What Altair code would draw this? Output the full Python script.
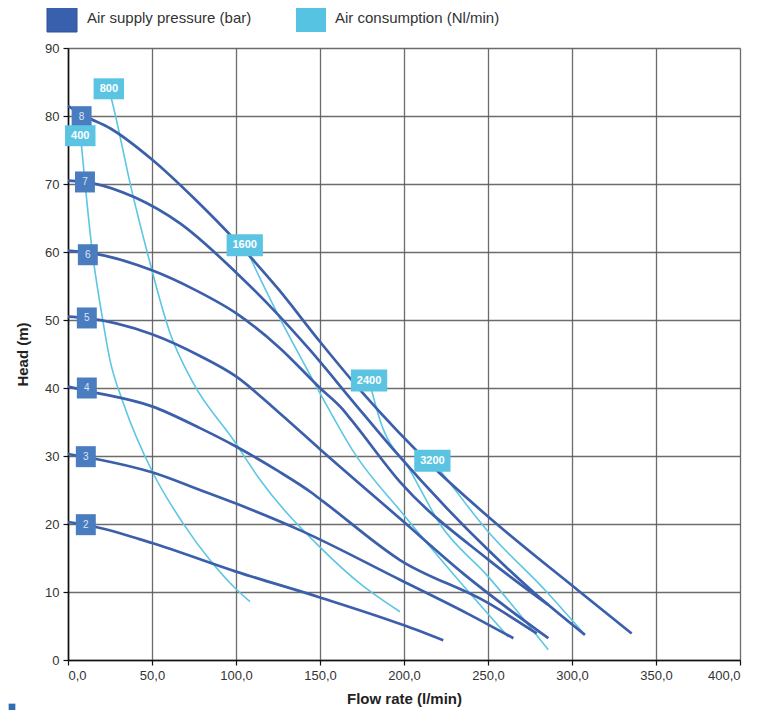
import altair as alt
import pandas as pd

# ---------------- data ----------------
LEG_P = "Air supply pressure (bar)"
LEG_A = "Air consumption (Nl/min)"
legend_kinds = [LEG_P, LEG_A]

# air supply pressure curves (bar): flow (l/min), head (m)
p2_flow = [0, 16, 50, 100, 150, 200, 223.4]
p2_head = [20.3, 19.6, 17.2, 13.0, 9.2, 5.1, 2.9]
p3_flow = [0, 16, 50, 78.6, 100, 138, 197.6, 237.3, 265.1]
p3_head = [30.3, 29.6, 27.6, 25.0, 23.0, 19.1, 11.8, 6.9, 3.2]
p4_flow = [0, 15, 50, 78.6, 100, 125, 145, 152, 197.6, 250, 279]
p4_head = [40.2, 39.4, 37.3, 34.1, 31.4, 27.8, 24.6, 23.3, 14.7, 8.4, 3.9]
p5_flow = [0, 10, 50, 78.6, 100, 125, 150, 197.6, 235.3, 285.9]
p5_head = [50.5, 50.3, 47.9, 44.7, 41.7, 36.5, 31.0, 20.8, 12.7, 3.2]
p6_flow = [0, 15, 50, 75, 100, 126, 150, 163, 169, 197.6, 250, 285.9]
p6_head = [60.2, 59.8, 57.3, 54.5, 51.0, 45.9, 40.0, 37.0, 35.2, 26.2, 14.8, 8.1]
p7_flow = [0, 15, 40, 66.7, 100, 125, 144, 170, 193.5, 250, 277, 307.7]
p7_head = [70.5, 70.1, 68.0, 64.2, 57.0, 50.8, 45.6, 37.9, 31.0, 16.2, 10.0, 3.7]
p8_flow = [0, 10, 25, 50, 75, 100, 125, 150, 175, 219.4, 250, 304.8, 335.5]
p8_head = [81.5, 80.0, 78.2, 73.6, 67.9, 61.6, 54.6, 46.8, 39.4, 27.9, 21.1, 10.0, 3.9]

# air consumption curves (Nl/min)
a400_flow = [7.5, 8.1, 11, 14.1, 20, 25, 32.9, 50.6, 68.5, 84.5, 100.6, 108.3]
a400_head = [77.0, 75.5, 68.0, 60.8, 51.0, 44.1, 37.8, 27.5, 20.1, 14.7, 10.3, 8.6]
a800_flow = [24.3, 26, 37.9, 46.8, 60.7, 74.6, 98.4, 114.3, 150, 175, 197.6]
a800_head = [84.0, 82.4, 69.1, 60.3, 48.1, 40.7, 32.4, 26.5, 16.6, 11.0, 7.1]
a1600_flow = [105.2, 108.3, 125, 140, 155, 170, 200, 227.4, 262.1]
a1600_head = [61.0, 59.3, 50.8, 43.8, 37.0, 30.6, 21.3, 13.2, 3.4]
a2400_flow = [179.2, 185.7, 203.6, 221.4, 250, 285.9]
a2400_head = [41.1, 35.3, 27.9, 20.0, 12.3, 1.5]
a3200_flow = [216.9, 221.4, 250, 285, 307.7]
a3200_head = [29.3, 27.9, 18.9, 10.0, 3.7]

# curve labels
p_label_text = ["2", "3", "4", "5", "6", "7", "8"]
p_label_flow = [10.6, 10.6, 11.2, 11.2, 11.8, 10.1, 8.1]
p_label_head = [19.9, 29.9, 40.0, 50.3, 59.6, 70.3, 79.9]
a3_label_text = ["400", "800"]
a3_label_flow = [7.3, 24.3]
a3_label_head = [77.1, 84.0]
a4_label_text = ["1600", "2400", "3200"]
a4_label_flow = [105.2, 179.2, 216.9]
a4_label_head = [61.0, 41.1, 29.3]

# ---------------- tables ----------------
def curves(items, kind):
    rows = []
    for name, fl, hd in items:
        for i, (f, h) in enumerate(zip(fl, hd)):
            rows.append({"curve": name, "idx": i, "flow": f, "head": h, "kind": kind})
    return rows

p_df = pd.DataFrame(curves([("2", p2_flow, p2_head), ("3", p3_flow, p3_head), ("4", p4_flow, p4_head),
                            ("5", p5_flow, p5_head), ("6", p6_flow, p6_head), ("7", p7_flow, p7_head),
                            ("8", p8_flow, p8_head)], LEG_P))
a_df = pd.DataFrame(curves([("400", a400_flow, a400_head), ("800", a800_flow, a800_head),
                            ("1600", a1600_flow, a1600_head), ("2400", a2400_flow, a2400_head),
                            ("3200", a3200_flow, a3200_head)], LEG_A))
pl_df = pd.DataFrame({"t": p_label_text, "flow": p_label_flow, "head": p_label_head})
a3_df = pd.DataFrame({"t": a3_label_text, "flow": a3_label_flow, "head": a3_label_head})
a4_df = pd.DataFrame({"t": a4_label_text, "flow": a4_label_flow, "head": a4_label_head})
one = pd.DataFrame({"k": [1]})

# ---------------- styling ----------------
DARK = "#3b5fab"
DARK_BOX = "#4a7cc0"
LIGHT = "#5cc6e4"
LIGHT_BOX = "#5bc4e3"
LEG_DARK = "#3960ac"
LEG_LIGHT = "#56c3e2"
GRID = "#5c5c5c"
FONT = "Liberation Sans, Arial, sans-serif"

xs = alt.Scale(domain=[0, 400], nice=False, zero=False)
ys = alt.Scale(domain=[0, 90], nice=False, zero=False)

X = alt.X("flow:Q", scale=xs, axis=alt.Axis(
    values=list(range(0, 401, 50)),
    labelExpr="replace(format(datum.value, '.1f'), '.', ',')",
    title="Flow rate (l/min)", titleFontSize=15, titleFontWeight="bold",
    titleColor="#222", titlePadding=9, labelFontSize=13, labelColor="#333",
    labelPadding=4, labelFont=FONT, titleFont=FONT))
Y = alt.Y("head:Q", scale=ys, axis=alt.Axis(
    values=list(range(0, 91, 10)),
    title="Head (m)", titleFontSize=15, titleFontWeight="bold",
    titleColor="#222", titlePadding=14, labelFontSize=13, labelColor="#333",
    labelPadding=4, labelFont=FONT, titleFont=FONT))

stroke_color = alt.Color("kind:N", scale=alt.Scale(domain=legend_kinds, range=[DARK, LIGHT]),
                         legend=None)

air_lines = alt.Chart(a_df).mark_line(strokeWidth=1.6, interpolate="monotone").encode(
    x=X, y=Y, color=stroke_color, detail="curve:N", order="idx:Q")
p_lines = alt.Chart(p_df).mark_line(strokeWidth=2.7, interpolate="monotone").encode(
    x=X, y=Y, color=stroke_color, detail="curve:N", order="idx:Q")

# legend drawn above the plot
RECT = "M-1.2,-1H1.2V1H-1.2Z"
leg1_sym = alt.Chart(one).mark_point(shape=RECT, filled=True, size=625, opacity=1, color=LEG_DARK,
                                     stroke="#2d5296", strokeWidth=1).encode(
    x=alt.value(-6), y=alt.value(-28.5))
leg1_txt = alt.Chart(one).mark_text(text=LEG_P, align="left", baseline="middle", fontSize=15,
                                    font=FONT, color="#333").encode(
    x=alt.value(19), y=alt.value(-30))
leg2_sym = alt.Chart(one).mark_point(shape=RECT, filled=True, size=625, opacity=1,
                                     color=LEG_LIGHT).encode(
    x=alt.value(243), y=alt.value(-28.5))
leg2_txt = alt.Chart(one).mark_text(text=LEG_A, align="left", baseline="middle", fontSize=15,
                                    font=FONT, color="#333").encode(
    x=alt.value(267), y=alt.value(-30))

p_box = alt.Chart(pl_df).mark_point(shape="M-0.95,-1H0.95V1H-0.95Z", filled=True, size=441,
                                    color=DARK_BOX, opacity=1).encode(x="flow:Q", y="head:Q")
p_txt = alt.Chart(pl_df).mark_text(fontSize=10, color="#dde6f3", font=FONT).encode(
    x="flow:Q", y="head:Q", text="t:N")

a3_box = alt.Chart(a3_df).mark_point(shape="M-1.45,-1H1.45V1H-1.45Z", filled=True, size=441,
                                     color=LIGHT_BOX, opacity=1).encode(x="flow:Q", y="head:Q")
a4_box = alt.Chart(a4_df).mark_point(shape="M-1.65,-1H1.65V1H-1.65Z", filled=True, size=484,
                                     color=LIGHT_BOX, opacity=1).encode(x="flow:Q", y="head:Q")
a3_txt = alt.Chart(a3_df).mark_text(fontSize=11, fontWeight="bold", color="white", font=FONT).encode(
    x="flow:Q", y="head:Q", text="t:N")
a4_txt = alt.Chart(a4_df).mark_text(fontSize=11, fontWeight="bold", color="white", font=FONT).encode(
    x="flow:Q", y="head:Q", text="t:N")

stray = alt.Chart(one).mark_square(size=45, color="#2f6db5", opacity=1).encode(
    x=alt.value(-56), y=alt.value(659))

chart = alt.layer(air_lines, p_lines, p_box, p_txt, a3_box, a4_box, a3_txt, a4_txt,
                  leg1_sym, leg1_txt, leg2_sym, leg2_txt, stray).properties(
    width=672, height=612,
    autosize=alt.AutoSizeParams(type="none"),
    padding={"left": 60, "top": 40, "right": 25, "bottom": 50},
    background="white",
).configure_view(stroke=None).configure_axis(
    grid=True, gridColor=GRID, gridWidth=1.3, gridOpacity=0.9,
    domainColor="#111", domainWidth=1.6, tickColor="#111", tickSize=5, tickWidth=1.2,
)

chart.save("out.html", embed_options={"renderer": "svg", "actions": False})
